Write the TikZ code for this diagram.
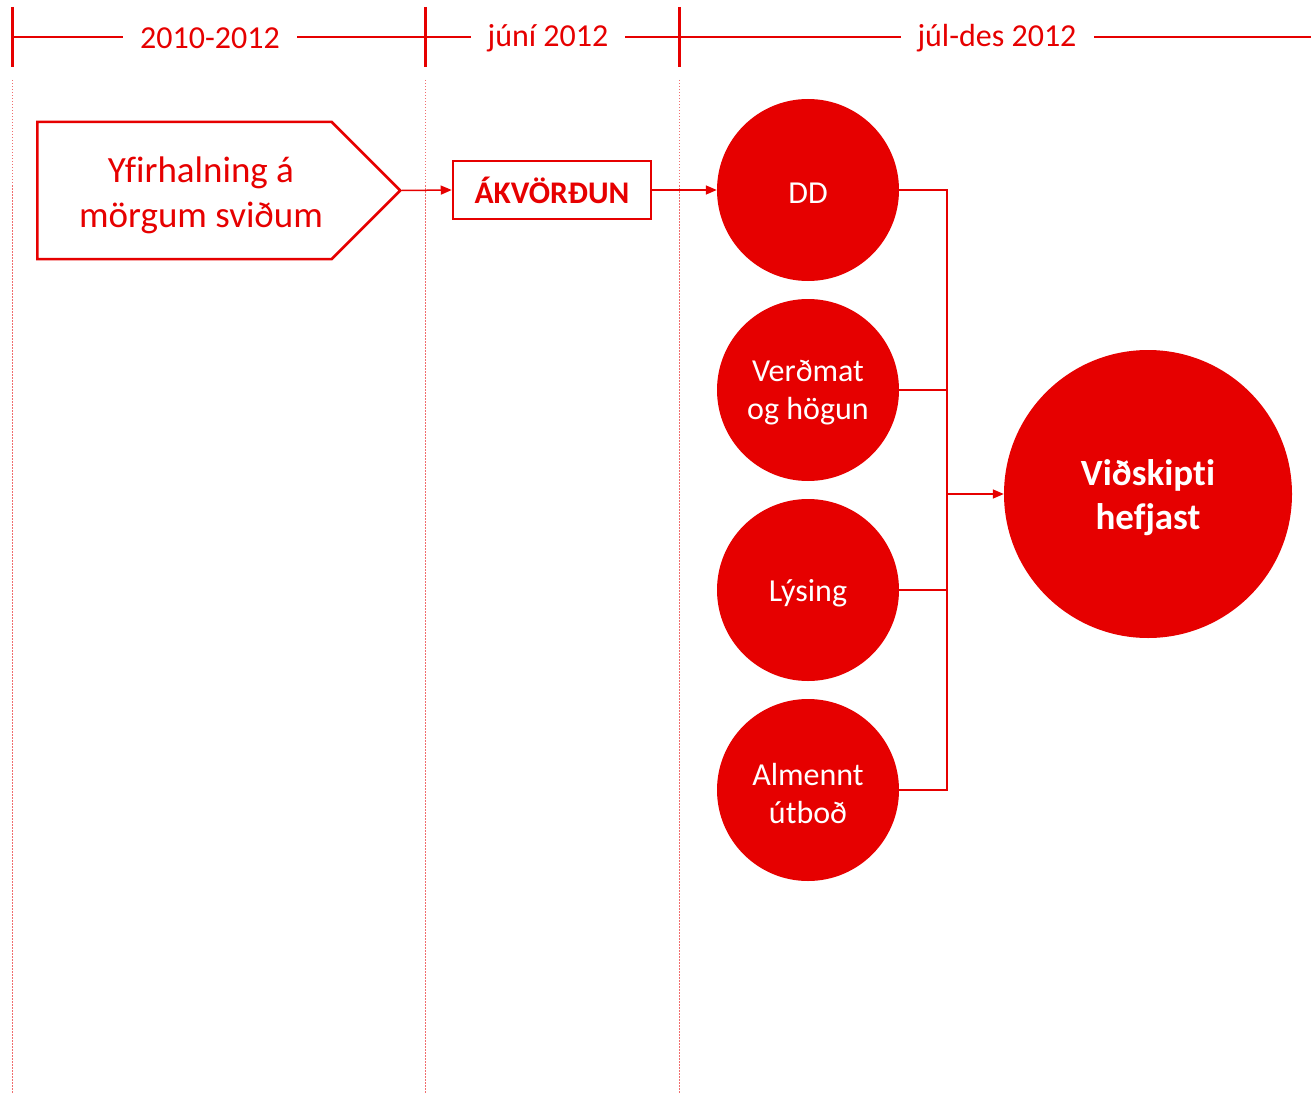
\documentclass[tikz,border=0pt]{standalone}
\usepackage{fontspec}
\setmainfont{Carlito}[Ligatures=NoCommon]
\usetikzlibrary{shapes.symbols,arrows.meta}
\definecolor{rd}{RGB}{230,0,0}
\definecolor{lrd}{RGB}{240,110,110}
\tikzset{
  hdr/.style={fill=white,text=rd,font=\fontsize{32}{38}\selectfont,inner xsep=17pt,inner ysep=0pt},
  tick/.style={draw=rd,line width=3pt},
  guide/.style={draw=lrd,line width=1pt,dash pattern=on 1.5pt off 1.5pt},
  circ/.style={circle,fill=rd,minimum size=182pt,inner sep=0pt},
  ctext/.style={text=white,align=center,font=\fontsize{32}{38}\selectfont,yshift=-3pt},
  conn/.style={draw=rd,line width=1.5pt},
  arr/.style={conn,-{Triangle[length=11pt,width=9pt]}},
}
\begin{document}
\begin{tikzpicture}[x=1pt,y=-1pt]
\useasboundingbox (0,0) rectangle (1311,1094);
% guides
\foreach \x in {12,425,679} \draw[guide] (\x,80) -- (\x,1094);
% header line
\coordinate (hl) at (12,37);
\coordinate (hr) at (1311,37);
\draw[draw=rd,line width=1.5pt] (hl) -- (hr);
\node[hdr] (h1) at (210,38) {2010-2012};
\node[hdr] (h2) at (548,38) {júní 2012};
\node[hdr] (h3) at (997,38) {júl-des 2012};
\foreach \x in {12,425,679} \draw[tick] (\x,7) -- (\x,67);
% pentagon
\node[signal,signal to=east,signal pointer angle=90,draw=rd,line width=2.5pt,
  minimum width=363pt,minimum height=137pt,inner sep=0pt] (p) at (184.5,190.5) {};
\node[text=rd,align=center,font=\fontsize{37}{45}\selectfont] (pt) at (201,195) {Yfirhalning á\\mörgum sviðum};
% decision box
\node[draw=rd,line width=2.5pt,minimum width=198pt,minimum height=58pt,inner sep=0pt,
  text=rd,font=\bfseries\fontsize{31.5}{36}\selectfont] (ak) at (552,190) {ÁKVÖRÐUN};
% circles
\node[circ,label={[ctext]center:DD}] (dd) at (808,190) {};
\node[circ,label={[ctext]center:Verðmat\\og högun}] (ve) at (808,390) {};
\node[circ,label={[ctext]center:Lýsing}] (ly) at (808,590) {};
\node[circ,label={[ctext]center:Almennt\\útboð}] (al) at (808,790) {};
\node[circ,minimum size=288pt,label={[ctext,font=\bfseries\fontsize{37}{44}\selectfont,yshift=-1pt]center:Viðskipti\\hefjast}] (vi) at (1148,494) {};
% connectors
\draw[arr] (p.east) -- (ak.west);
\draw[arr] (ak.east) -- (dd.west);
\coordinate (j1) at (947,190);
\coordinate (j4) at (947,790);
\coordinate (jm) at (947,494);
\draw[conn] (dd.east) -- (j1) -- (j4) -- (al.east);
\draw[conn] (ve.east) -- (947,390);
\draw[conn] (ly.east) -- (947,590);
\draw[arr] (jm) -- (vi.west);
\end{tikzpicture}
\end{document}
